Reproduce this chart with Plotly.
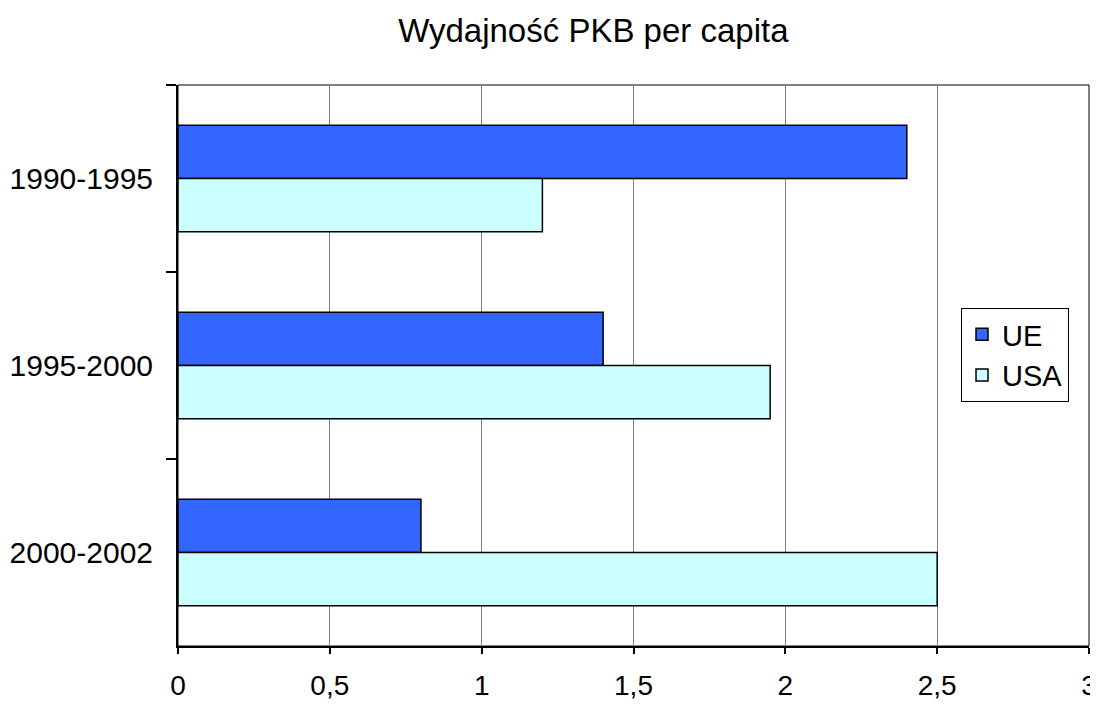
import plotly.graph_objects as go

periods = ["1990-1995", "1995-2000", "2000-2002"]
ue_values = [2.4, 1.4, 0.8]
usa_values = [1.2, 1.95, 2.5]
x_ticks = [0, 0.5, 1, 1.5, 2, 2.5, 3]
x_tick_labels = ["0", "0,5", "1", "1,5", "2", "2,5", "3"]

fig = go.Figure()
fig.add_trace(go.Bar(
    y=periods, x=ue_values, name="UE", orientation="h",
    marker=dict(color="#3366FF", line=dict(color="#000000", width=1.5))
))
fig.add_trace(go.Bar(
    y=periods, x=usa_values, name="USA", orientation="h",
    marker=dict(color="#CCFFFF", line=dict(color="#000000", width=1.5))
))

# thin frame round the plot area (top/right edges)
fig.add_shape(type="rect", xref="paper", yref="paper", x0=0, y0=0, x1=1, y1=1,
              line=dict(color="#000000", width=1), layer="below")

# page body has an 8px margin, so the figure is sized 8px smaller
fig.update_layout(
    width=1090, height=696,
    paper_bgcolor="white", plot_bgcolor="white",
    font=dict(family="Liberation Sans, Arial, sans-serif", color="#000000", size=30),
    title=dict(text="Wydajność PKB per capita", x=0.537, xanchor="center",
               y=0.968, yref="container", yanchor="middle",
               font=dict(size=33)),
    barmode="group", bargap=0.43, bargroupgap=0,
    margin=dict(l=170, r=9, t=77, b=58),
    showlegend=True,
    legend=dict(x=0.8595, y=0.6025, xanchor="left", yanchor="top",
                bordercolor="#000000", borderwidth=1, bgcolor="white",
                font=dict(size=29), tracegroupgap=0),
    xaxis=dict(range=[0, 3], tickvals=x_ticks, ticktext=x_tick_labels,
               tickfont=dict(size=28),
               showgrid=True, gridcolor="#808080", gridwidth=1,
               ticks="outside", ticklen=6, tickcolor="#000000", tickwidth=1.5,
               showline=True, linecolor="#000000", linewidth=2,
               zeroline=False, ticklabelstandoff=7, automargin=False,
               fixedrange=True),
    yaxis=dict(autorange="reversed", tickson="boundaries",
               ticks="outside", ticklen=10, tickcolor="#000000", tickwidth=1.5,
               showline=True, linecolor="#000000", linewidth=2,
               showgrid=False, ticklabelstandoff=17, automargin=False,
               fixedrange=True),
)

fig.write_html("out.html")
